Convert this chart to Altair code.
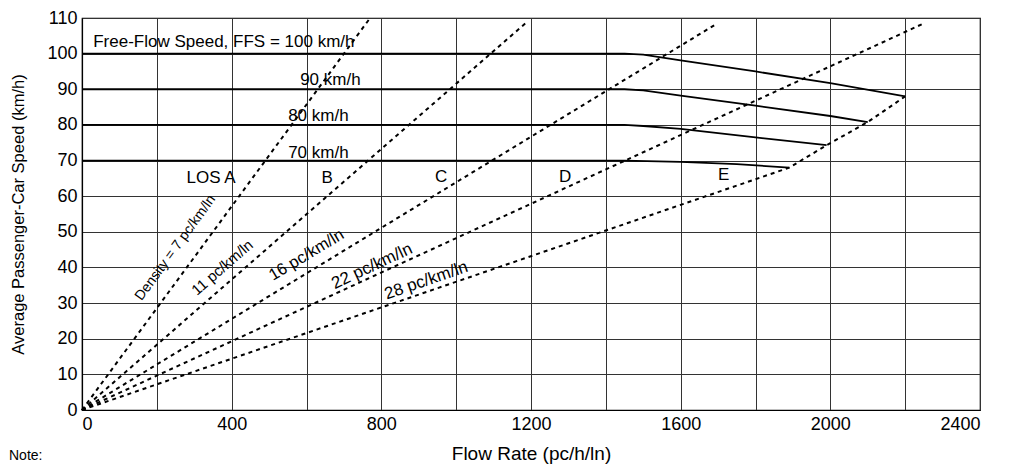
import altair as alt
import pandas as pd

# ---------------- data ----------------
# speed-flow curves (flow pc/h/ln, speed km/h)
ffs100_flow = [0, 1450, 1500, 1600, 1800, 2000, 2200]
ffs100_speed = [100, 100, 99.7, 98.1, 95.0, 91.7, 88.0]
ffs90_flow = [0, 1450, 1500, 1600, 1800, 2000, 2100]
ffs90_speed = [90, 90, 89.7, 88.2, 85.4, 82.5, 80.8]
ffs80_flow = [0, 1450, 1500, 1600, 1800, 1990]
ffs80_speed = [80, 80, 79.7, 78.9, 76.5, 74.3]
ffs70_flow = [0, 1450, 1600, 1750, 1890]
ffs70_speed = [70, 70, 69.6, 69.0, 68.0]

# density (LOS boundary) lines from the origin: end points
dens_names = ["7", "11", "16", "22"]
dens_end_flow = [770, 1185, 1695, 2250]
dens_end_speed = [110, 108.5, 108.3, 108.5]
# LOS E boundary: 28 pc/km/ln line, then through the capacity points
lose_flow = [0, 1890, 1990, 2100, 2200]
lose_speed = [0, 68.0, 74.3, 80.8, 88.0]

# labels
curve_label_text = ["Free-Flow Speed, FFS = 100 km/h", "90 km/h", "80 km/h", "70 km/h"]
curve_label_flow = [30, 583, 551, 551]
curve_label_speed = [101.8, 91.1, 81.1, 70.65]

los_text = ["LOS A", "B", "C", "D", "E"]
los_flow = [345, 655, 960, 1291, 1715]
los_speed = [63.6, 63.6, 64.1, 64.1, 64.6]

dens_label_text = ["Density = 7 pc/km/ln", "11 pc/km/ln", "16 pc/km/ln",
                   "22 pc/km/ln", "28 pc/km/ln"]
dens_label_flow = [250, 375, 600, 775, 920]
dens_label_speed = [45.5, 40.0, 43.5, 40.3, 36.3]

x_ticks = list(range(0, 2401, 200))
y_ticks = list(range(0, 111, 10))

# ---------------- tables ----------------
frames = []
for name, fl, sp in [("100", ffs100_flow, ffs100_speed), ("90", ffs90_flow, ffs90_speed),
                     ("80", ffs80_flow, ffs80_speed), ("70", ffs70_flow, ffs70_speed)]:
    frames.append(pd.DataFrame({"flow": fl, "speed": sp, "series": name,
                                "order": list(range(len(fl)))}))
curves = pd.concat(frames, ignore_index=True)

dframes = []
for name, fe, se in zip(dens_names, dens_end_flow, dens_end_speed):
    dframes.append(pd.DataFrame({"flow": [0, fe], "speed": [0, se], "series": name,
                                 "order": [0, 1]}))
dframes.append(pd.DataFrame({"flow": lose_flow, "speed": lose_speed, "series": "E",
                             "order": list(range(len(lose_flow)))}))
dens = pd.concat(dframes, ignore_index=True)

FONT = "Liberation Sans"

x_scale = alt.Scale(domain=[0, 2400], nice=False)
y_scale = alt.Scale(domain=[0, 110], nice=False)
x_axis = alt.Axis(values=x_ticks, format="d",
                  labelExpr="datum.value % 400 === 0 ? datum.label : ''",
                  title="Flow Rate (pc/h/ln)", ticks=False, labelPadding=5,
                  titlePadding=11, labelFontSize=18, titleFontSize=19,
                  labelFont=FONT, titleFont=FONT, titleFontWeight="normal")
y_axis = alt.Axis(values=y_ticks, format="d",
                  title="Average Passenger-Car Speed (km/h)", ticks=False,
                  labelPadding=5, titlePadding=20, labelFontSize=18, titleFontSize=16.5,
                  labelFont=FONT, titleFont=FONT, titleFontWeight="normal")

X = alt.X("flow:Q", scale=x_scale, axis=x_axis)
Y = alt.Y("speed:Q", scale=y_scale, axis=y_axis)

curve_layer = alt.Chart(curves).mark_line(color="black", strokeWidth=1.8).encode(
    x=X, y=Y, detail="series:N", order="order:Q")

dens_layer = alt.Chart(dens).mark_line(color="black", strokeWidth=2,
                                       strokeDash=[4, 4]).encode(
    x=X, y=Y, detail="series:N", order="order:Q")

curve_lbl = alt.Chart(pd.DataFrame({"flow": curve_label_flow, "speed": curve_label_speed,
                                    "t": curve_label_text})).mark_text(
    align="left", baseline="alphabetic", fontSize=17, font=FONT, color="black").encode(
    x=X, y=Y, text="t:N")

los_lbl = alt.Chart(pd.DataFrame({"flow": los_flow, "speed": los_speed,
                                  "t": los_text})).mark_text(
    align="center", baseline="alphabetic", fontSize=17, font=FONT, color="black").encode(
    x=X, y=Y, text="t:N")

dens_angles = [306, 319, 329, 335, 341]
dens_sizes = [14, 15, 16.5, 17, 17]
dens_lbls = []
for i in range(len(dens_label_text)):
    dens_lbls.append(
        alt.Chart(pd.DataFrame({"flow": [dens_label_flow[i]], "speed": [dens_label_speed[i]],
                                "t": [dens_label_text[i]]})).mark_text(
            align="center", baseline="middle", angle=dens_angles[i],
            fontSize=dens_sizes[i], font=FONT, color="black").encode(
            x=X, y=Y, text="t:N"))

note = alt.Chart(pd.DataFrame({"t": ["Note:"]})).mark_text(
    align="left", baseline="alphabetic", fontSize=14, font=FONT, color="black").encode(
    x=alt.value(-73), y=alt.value(442), text="t:N")

chart = alt.layer(curve_layer, dens_layer, curve_lbl, los_lbl, *dens_lbls, note).properties(
    width=898, height=392,
    padding={"left": 74, "top": 10, "right": 25, "bottom": 54},
    autosize=alt.AutoSizeParams(type="none"),
    background="white",
).configure_axis(
    gridColor="#333333", gridWidth=1, domainColor="black", domainWidth=1.2,
    labelColor="black", titleColor="black",
).configure_view(stroke="black", strokeWidth=1.2)

chart.save("out.html", embed_options={"renderer": "svg", "actions": False})
